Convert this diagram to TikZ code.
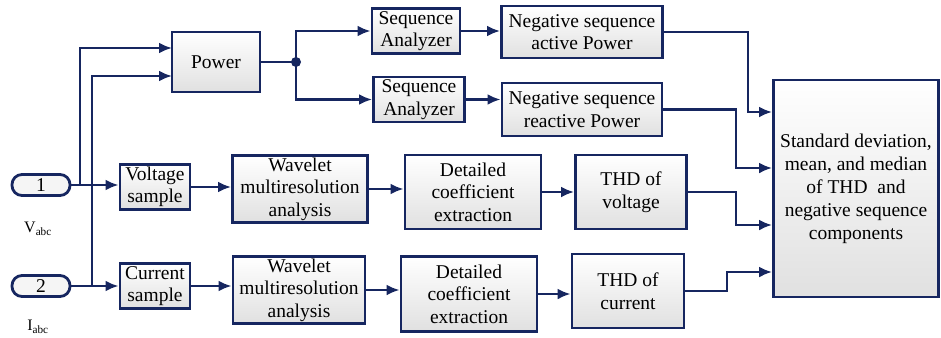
\documentclass[tikz,border=0pt]{standalone}
\usepackage{fontspec}
\setmainfont{Liberation Serif}
\usetikzlibrary{arrows.meta}
\definecolor{navy}{RGB}{22,38,96}

\begin{document}
\begin{tikzpicture}[x=1pt,y=-1pt,
    blk/.style={draw=navy,line width=2.8pt,top color=white,bottom color=black!12,
      align=center,inner sep=2pt,font=\fontsize{19.5}{22.5}\selectfont},
    port/.style={draw=navy,line width=2.8pt,rounded corners=10pt,fill=black!4,
      minimum width=58,minimum height=21,inner sep=0pt,font=\fontsize{19.5}{22.5}\selectfont},
    wire/.style={navy,line width=2.7pt},
    arr/.style={wire,-{Latex[length=13pt,width=11pt]}}]
                    \useasboundingbox (0,0) rectangle (941,337);
                    % inputs
                    \node[port] (port1) at (41,185) {1};
                    \node[port] (port2) at (41,286) {2};
                    \node[font=\fontsize{16}{18}\selectfont] (vlab) at (38,229) {V\textsubscript{abc}};
                    \node[font=\fontsize{16}{18}\selectfont] (ilab) at (38,327) {I\textsubscript{abc}};
                    % power branch
                    \node[blk,minimum width=88,minimum height=60] (power) at (216,62) {Power};
                    \node[blk,minimum width=88,minimum height=45] (sa1) at (416,31) {Sequence\\Analyzer};
                    \node[blk,minimum width=161,minimum height=52] (nsa) at (582,32) {Negative sequence\\active Power};
                    \node[blk,minimum width=91,minimum height=45] (sa2) at (419,99.5) {Sequence\\Analyzer};
                    \node[blk,minimum width=160,minimum height=53] (nsr) at (582,109.5) {Negative sequence\\reactive Power};
                    % voltage row
                    \node[blk,minimum width=70,minimum height=45] (vs) at (155,187) {Voltage\\sample};
                    \node[blk,minimum width=135,minimum height=66] (wv1) at (300,189) {Wavelet\\multiresolution\\analysis};
                    \node[blk,minimum width=136,minimum height=74] (dc1) at (473,192) {Detailed\\coefficient\\extraction};
                    \node[blk,minimum width=111,minimum height=74] (thv) at (631,192) {THD of\\voltage};
                    % current row
                    \node[blk,minimum width=70,minimum height=45] (cs) at (155,286) {Current\\sample};
                    \node[blk,minimum width=132,minimum height=66] (wv2) at (299,290) {Wavelet\\multiresolution\\analysis};
                    \node[blk,minimum width=136,minimum height=75] (dc2) at (469,294) {Detailed\\coefficient\\extraction};
                    \node[blk,minimum width=112,minimum height=74] (thc) at (628,291) {THD of\\current};
                    % output
                    \node[blk,minimum width=165,minimum height=217,font=\fontsize{19.5}{23}\selectfont] (big) at (856,188.5)
                      {Standard deviation,\\mean, and median\\of THD\ \ and\\negative sequence\\components};
                    % junctions and bends
                    \coordinate (j1) at (80,185);
                    \coordinate (j2) at (92,286);
                    \coordinate (pin1) at (172,48);
                    \coordinate (pin2) at (172,76);
                    \coordinate (split) at (296,62);
                    \coordinate (k1) at (748,112);
                    \coordinate (k2) at (736,168);
                    \coordinate (k3) at (736,225);
                    \coordinate (k4) at (727,272);
                    % connectors
                    \draw[arr] (port1.east) -- (port1.east -| vs.west);
                    \draw[arr] (port2.east) -- (port2.east -| cs.west);
                    \draw[arr] (j1) |- (pin1);
                    \draw[arr] (j2) |- (pin2);
                    \draw[wire] (power.east) -- (split);
                    \fill[navy] (split) circle (5);
                    \draw[arr] (split) |- (sa1.west);
                    \draw[arr] (split) |- (sa2.west);
                    \draw[arr] (sa1.east) -- (sa1.east -| nsa.west);
                    \draw[arr] (sa2.east) -- (sa2.east -| nsr.west);
                    \draw[arr] (vs.east) -- (vs.east -| wv1.west);
                    \draw[arr] (wv1.east) -- (wv1.east -| dc1.west);
                    \draw[arr] (dc1.east) -- (dc1.east -| thv.west);
                    \draw[arr] (cs.east) -- (cs.east -| wv2.west);
                    \draw[arr] (wv2.east) -- (wv2.east -| dc2.west);
                    \draw[arr] (dc2.east) -- (dc2.east -| thc.west);
                    \draw[arr] (nsa.east) -| (k1) -- (k1 -| big.west);
                    \draw[arr] (nsr.east) -| (k2) -- (k2 -| big.west);
                    \draw[arr] (thv.east) -| (k3) -- (k3 -| big.west);
                    \draw[arr] (thc.east) -| (k4) -- (k4 -| big.west);
                \end{tikzpicture}
\end{document}
